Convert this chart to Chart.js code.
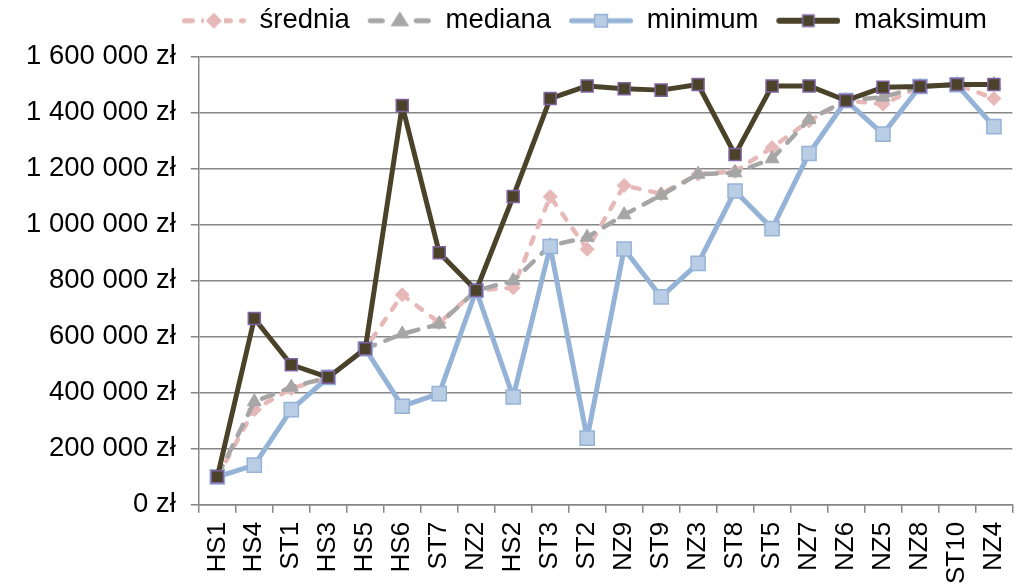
<!DOCTYPE html>
<html>
<head>
<meta charset="utf-8">
<script src="https://cdn.jsdelivr.net/npm/chart.js@4/dist/chart.umd.min.js"></script>
<style>
  html, body { margin: 0; padding: 0; background: #fff; }
  #wrap { width: 1024px; height: 585px; }
</style>
</head>
<body>
<div id="wrap"><canvas id="chart"></canvas></div>
<script>
const categories = ['HS1', 'HS4', 'ST1', 'HS3', 'HS5', 'HS6', 'ST7', 'NZ2', 'HS2', 'ST3', 'ST2',
  'NZ9', 'ST9', 'NZ3', 'ST8', 'ST5', 'NZ7', 'NZ6', 'NZ5', 'NZ8', 'ST10', 'NZ4'];

const srednia = [100000, 340000, 415000, 455000, 557000, 750000, 650000, 765000, 775000, 1100000, 912000,
  1140000, 1110000, 1180000, 1190000, 1275000, 1370000, 1443000, 1430000, 1493000, 1500000, 1450000];
const mediana = [100000, 368000, 420000, 455000, 557000, 610000, 645000, 765000, 800000, 925000, 955000,
  1035000, 1105000, 1180000, 1185000, 1235000, 1375000, 1443000, 1455000, 1493000, 1500000, 1500000];
const minimum = [100000, 142000, 340000, 455000, 557000, 352000, 397000, 765000, 385000, 922000, 238000,
  913000, 742000, 862000, 1120000, 986000, 1254000, 1443000, 1323000, 1493000, 1499000, 1350000];
const maksimum = [100000, 665000, 500000, 455000, 557000, 1425000, 900000, 765000, 1100000, 1450000, 1495000,
  1485000, 1480000, 1500000, 1250000, 1495000, 1495000, 1443000, 1490000, 1493000, 1500000, 1500000];

const yTicks = [0, 200000, 400000, 600000, 800000, 1000000, 1200000, 1400000, 1600000];

const FONT = "'Liberation Sans', Arial, sans-serif";
const LEGEND_RIGHT = 994;   // where the legend row should end
const LEGEND_EXTRA = 12;    // extra space under legend

function zl(v) {
  return String(v).replace(/\B(?=(\d{3})+(?!\d))/g, ' ') + ' zł';
}

// legend symbol: line + marker on a small canvas (blank strip on the left = gap to previous item)
function legendSymbol(color, width, dash, style, radius, fill, border) {
  const c = document.createElement('canvas');
  c.width = 75; c.height = 24;
  const g = c.getContext('2d');
  const x0 = 11, x1 = 75, cx = 43, cy = 12;
  g.strokeStyle = color;
  g.lineWidth = width;
  g.lineCap = 'round';
  g.setLineDash(dash);
  g.beginPath();
  g.moveTo(x0 + width / 2, cy); g.lineTo(x1 - width / 2, cy);
  g.stroke();
  g.setLineDash([]);
  if (dash.length) {
    // gap around the marker like the reference
    g.clearRect(cx - radius - 3, 0, 2 * radius + 6, 24);
  }
  g.fillStyle = fill;
  g.strokeStyle = border;
  g.lineWidth = 1.5;
  g.beginPath();
  if (style === 'rect') {
    const s = Math.SQRT1_2 * radius;
    g.rect(cx - s, cy - s, 2 * s, 2 * s);
  } else if (style === 'rectRot') {
    g.moveTo(cx, cy - radius); g.lineTo(cx + radius, cy); g.lineTo(cx, cy + radius); g.lineTo(cx - radius, cy); g.closePath();
  } else {
    g.moveTo(cx, cy - radius); g.lineTo(cx + radius, cy + radius * 0.6); g.lineTo(cx - radius, cy + radius * 0.6); g.closePath();
  }
  g.fill();
  g.stroke();
  return c;
}

const legendImgs = [
  legendSymbol('#e6b9b8', 5, [8, 11], 'rectRot', 7, '#e6b9b8', '#e6b9b8'),
  legendSymbol('#a6a6a6', 5, [12, 11], 'triangle', 8, '#a6a6a6', '#a6a6a6'),
  legendSymbol('#95b3d7', 5, [], 'rect', 9, '#b9cde5', '#95b3d7'),
  legendSymbol('#4a4229', 6, [], 'rect', 8, '#4a4229', '#8064a2')
];

const legendPlace = {
  id: 'legendPlace',
  beforeInit(chart) {
    const fit = chart.legend.fit;
    chart.legend.fit = function () {
      fit.call(this);
      this.height += LEGEND_EXTRA;
    };
  },
  afterLayout(chart) {
    chart.legend.right = LEGEND_RIGHT;
  }
};

const ctx = document.getElementById('chart').getContext('2d');
const chart = new Chart(ctx, {
  type: 'line',
  data: {
    labels: categories,
    datasets: [{
      label: 'średnia',
      data: srednia,
      order: 4,
      borderColor: '#e6b9b8',
      borderWidth: 4.5,
      borderDash: [7, 11],
      borderCapStyle: 'round',
      borderJoinStyle: 'round',
      pointStyle: 'rectRot',
      pointRadius: 7,
      backgroundColor: '#e6b9b8',
      pointBorderColor: '#e6b9b8',
      pointBorderWidth: 1
    }, {
      label: 'mediana',
      data: mediana,
      order: 3,
      borderColor: '#a6a6a6',
      borderWidth: 4.5,
      borderDash: [12, 11],
      borderCapStyle: 'round',
      borderJoinStyle: 'round',
      pointStyle: 'triangle',
      pointRadius: 8,
      backgroundColor: '#a6a6a6',
      pointBorderColor: '#a6a6a6',
      pointBorderWidth: 1
    }, {
      label: 'minimum',
      data: minimum,
      order: 2,
      borderColor: '#95b3d7',
      borderWidth: 5,
      borderJoinStyle: 'round',
      pointStyle: 'rect',
      pointRadius: 10,
      backgroundColor: '#b9cde5',
      pointBorderColor: '#95b3d7',
      pointBorderWidth: 1.5
    }, {
      label: 'maksimum',
      data: maksimum,
      order: 1,
      borderColor: '#4a4229',
      borderWidth: 5,
      borderJoinStyle: 'round',
      pointStyle: 'rect',
      pointRadius: 8.5,
      backgroundColor: '#4a4229',
      pointBorderColor: '#8064a2',
      pointBorderWidth: 1.5
    }]
  },
  options: {
    responsive: true,
    maintainAspectRatio: false,
    animation: false,
    layout: { padding: { left: 11, right: 4, top: 0, bottom: -8 } },
    plugins: {
      tooltip: { enabled: false },
      legend: {
        position: 'top',
        align: 'end',
        labels: {
          usePointStyle: true,
          pointStyleWidth: 75,
          padding: 7,
          color: '#000',
          font: { family: FONT, size: 27.5 },
          sort: (a, b) => a.datasetIndex - b.datasetIndex,
          generateLabels: (c) => {
            const items = Chart.defaults.plugins.legend.labels.generateLabels(c);
            items.forEach(it => { it.pointStyle = legendImgs[it.datasetIndex]; });
            return items;
          }
        }
      }
    },
    scales: {
      x: {
        offset: true,
        grid: { offset: true, drawOnChartArea: false, drawTicks: true, tickLength: 8, color: '#868686', lineWidth: 1.5 },
        border: { color: '#868686', width: 1.5 },
        ticks: {
          color: '#000',
          minRotation: 90,
          maxRotation: 90,
          autoSkip: false,
          padding: 9,
          font: { family: FONT, size: 26, lineHeight: 0.8 }
        }
      },
      y: {
        min: yTicks[0],
        max: yTicks[yTicks.length - 1],
        afterBuildTicks: (axis) => { axis.ticks = yTicks.map(v => ({ value: v })); },
        grid: { color: '#868686', lineWidth: 1.5, tickLength: 8 },
        border: { color: '#868686', width: 1.5 },
        ticks: {
          color: '#000',
          padding: 15,
          font: { family: FONT, size: 27.5 },
          callback: (v) => zl(v)
        }
      }
    }
  },
  plugins: [legendPlace]
});
</script>
</body>
</html>
